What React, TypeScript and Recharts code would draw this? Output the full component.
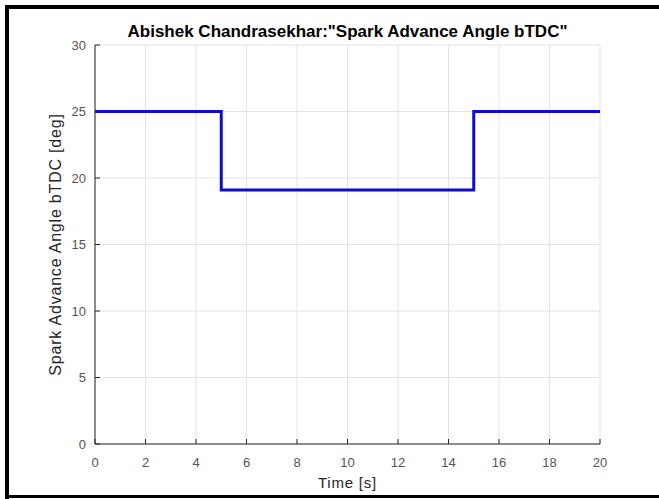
import { LineChart, Line, XAxis, YAxis, CartesianGrid } from 'recharts'

const times = [0, 5, 15, 20]
const angles = [25, 19.1, 25, 25]
const xTicks = [0, 2, 4, 6, 8, 10, 12, 14, 16, 18, 20]
const yTicks = [0, 5, 10, 15, 20, 25, 30]

const data = times.map((t, i) => ({ t, angle: angles[i] }))

const font = '"Liberation Sans", Arial, sans-serif'
const tickStyle = { fontSize: 13, fill: '#555', fontFamily: font }
const labelStyle = { fontSize: 15, fill: '#262626', fontFamily: font, letterSpacing: 0.8 }

const bar = (s: React.CSSProperties): React.CSSProperties => ({ position: 'absolute', background: '#000', zIndex: 3, ...s })

export default function App() {
  return (
    <div style={{ position: 'fixed', left: 0, top: 0, width: 659, height: 499, background: '#fff', overflow: 'hidden' }}>
      <div
        style={{
          position: 'absolute', left: 95, top: 22, width: 505, textAlign: 'center', zIndex: 2,
          fontFamily: font, fontWeight: 'bold', fontSize: 17, color: '#000', lineHeight: '20px',
        }}
      >
        Abishek Chandrasekhar:"Spark Advance Angle bTDC"
      </div>
      <LineChart width={659} height={499} data={data} margin={{ top: 45, right: 59, bottom: 0, left: 35 }}>
        <CartesianGrid stroke="#e3e3e3" strokeWidth={1} />
        <XAxis
          dataKey="t" type="number" domain={[0, 20]} ticks={xTicks} interval={0}
          stroke="#262626" tickSize={-5} tickMargin={19} tick={tickStyle} height={55}
          label={{ value: 'Time [s]', position: 'insideBottom', offset: 11, style: labelStyle }}
        />
        <XAxis xAxisId="top" orientation="top" dataKey="t" type="number" domain={[0, 20]} ticks={xTicks}
          stroke="#262626" tickSize={-5} tick={false} height={0} />
        <YAxis
          type="number" domain={[0, 30]} ticks={yTicks} interval={0}
          stroke="#262626" tickSize={-5} tickMargin={14} tick={tickStyle} width={60}
          label={{ value: 'Spark Advance Angle bTDC [deg]', angle: -90, position: 'insideLeft', offset: 20, style: { ...labelStyle, fontSize: 16, textAnchor: 'middle' } }}
        />
        <YAxis yAxisId="right" orientation="right" type="number" domain={[0, 30]} ticks={yTicks}
          stroke="#262626" tickSize={-5} tick={false} width={0} />
        <Line
          type="stepAfter" dataKey="angle" stroke="#0d0dd0" strokeWidth={3}
          dot={false} isAnimationActive={false}
        />
      </LineChart>
      <div style={bar({ left: 5, top: 5, width: 4, height: 494 })} />
      <div style={bar({ left: 5, top: 5, width: 654, height: 4 })} />
      <div style={bar({ left: 5, top: 495, width: 654, height: 3 })} />
    </div>
  )
}
